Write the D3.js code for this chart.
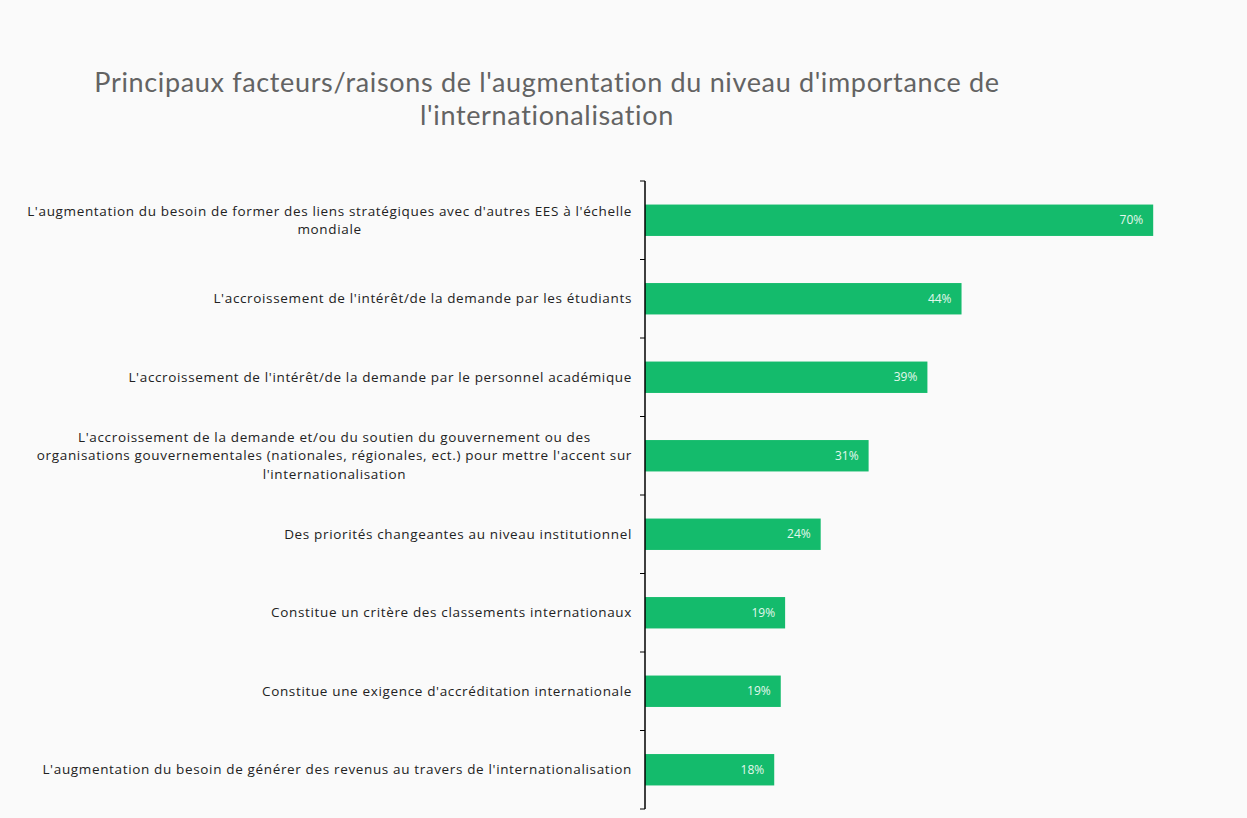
<!DOCTYPE html>
<html>
<head>
<meta charset="utf-8">
<script src="https://cdn.jsdelivr.net/npm/d3@7"></script>
<style>
  body { margin: 0; background: #fafafa; }
  svg { display: block; }
</style>
</head>
<body>
<div id="plot"></div>
<script>
// categories (line breaks as in the original chart)
const categories = [
    "L'augmentation du besoin de former des liens stratégiques avec d'autres EES à l'échelle\nmondiale",
    "L'accroissement de l'intérêt/de la demande par les étudiants",
    "L'accroissement de l'intérêt/de la demande par le personnel académique",
    "L'accroissement de la demande et/ou du soutien du gouvernement ou des\norganisations gouvernementales (nationales, régionales, ect.) pour mettre l'accent sur\nl'internationalisation",
    "Des priorités changeantes au niveau institutionnel",
    "Constitue un critère des classements internationaux",
    "Constitue une exigence d'accréditation internationale",
    "L'augmentation du besoin de générer des revenus au travers de l'internationalisation"
];
// share of respondents, % (bar lengths)
const values = [70, 43.6, 38.9, 30.8, 24.2, 19.3, 18.7, 17.8];
const titleLines = [
    "Principaux facteurs/raisons de l'augmentation du niveau d'importance de",
    "l'internationalisation"
];

const width = 1247, height = 818;
const axisX = 645, plotTop = 181, plotBottom = 809;

let svg = d3.select('#plot').append('svg')
    .attr('width', width)
    .attr('height', height);

svg.append('rect')
    .attr('width', width)
    .attr('height', height)
    .attr('fill', '#fafafa');

// title
svg.append('g')
    .selectAll('text')
    .data(titleLines)
    .enter()
    .append('text')
    .attr('x', 547)
    .attr('y', (d, i) => 92 + i * 33)
    .attr('text-anchor', 'middle')
    .attr('font-family', 'Lato, "Open Sans", sans-serif')
    .attr('font-size', 27)
    .attr('letter-spacing', 0.65)
    .attr('fill', '#636363')
    .text(d => d);

// scales
let x = d3.scaleLinear()
    .domain([0, 80])
    .range([axisX, axisX + 80 * 7.26]);

let y = d3.scaleBand()
    .domain(categories)
    .range([plotTop, plotBottom])
    .paddingInner(0.6)
    .paddingOuter(0.3);

let data = categories.map((c, i) => ({ cat: c, value: values[i] }));

// bars
svg.append('g')
    .selectAll('rect')
    .data(data)
    .enter()
    .append('rect')
    .attr('x', x(0))
    .attr('y', d => y(d.cat))
    .attr('width', d => x(d.value) - x(0))
    .attr('height', y.bandwidth())
    .attr('fill', '#14bb6c');

// value labels inside the bar ends
svg.append('g')
    .selectAll('text')
    .data(data)
    .enter()
    .append('text')
    .attr('x', d => x(d.value) - 10)
    .attr('y', d => y(d.cat) + y.bandwidth() / 2 + 4)
    .attr('text-anchor', 'end')
    .attr('font-family', '"Open Sans", Lato, sans-serif')
    .attr('font-size', 12)
    .attr('fill', '#e3f8ec')
    .text(d => Math.round(d.value) + '%');

// vertical axis line and ticks at the band boundaries
let axis = svg.append('g');
axis.append('line')
    .attr('x1', axisX).attr('x2', axisX)
    .attr('y1', plotTop).attr('y2', plotBottom)
    .attr('stroke', '#000')
    .attr('stroke-width', 1.5);
let step = y.step();
axis.selectAll('line.tick')
    .data(d3.range(categories.length + 1))
    .enter()
    .append('line')
    .attr('class', 'tick')
    .attr('x1', axisX - 5).attr('x2', axisX)
    .attr('y1', i => plotTop + i * step)
    .attr('y2', i => plotTop + i * step)
    .attr('stroke', '#000')
    .attr('stroke-width', 1);

// category labels: block right-aligned against the axis, lines centred in the block
let labels = svg.append('g')
    .attr('font-family', '"Open Sans", Lato, sans-serif')
    .attr('font-size', 13.5)
    .attr('letter-spacing', 0.65)
    .attr('fill', '#222');

data.forEach(d => {
    let lines = d.cat.split('\n');
    let g = labels.append('g');
    let lineH = 18.5;
    let cy = y(d.cat) + y.bandwidth() / 2;
    let y0 = cy - (lines.length - 1) * lineH / 2 + 4.5;
    let texts = g.selectAll('text')
        .data(lines)
        .enter()
        .append('text')
        .attr('y', (l, i) => y0 + i * lineH)
        .attr('text-anchor', 'middle')
        .text(l => l);
    let maxW = d3.max(texts.nodes(), n => n.getComputedTextLength());
    texts.attr('x', 632 - maxW / 2);
});
</script>
</body>
</html>
